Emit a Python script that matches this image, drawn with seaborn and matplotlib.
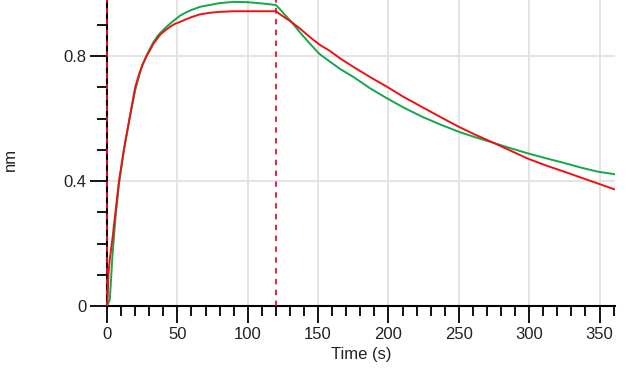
import matplotlib
matplotlib.use("Agg")
import matplotlib.pyplot as plt
import numpy as np
import pandas as pd
import seaborn as sns
from matplotlib.ticker import MultipleLocator, FixedLocator

# ---- data (time in s, response in nm) ----
measured_time = [0, 2, 4, 6, 8.5, 12, 16, 20, 23, 25, 28, 30, 33, 36, 38, 42, 45, 48,
                 52, 56, 60, 66, 73, 80, 90, 100, 110, 120,
                 123, 127, 131, 137, 144, 151, 158, 166, 175, 187, 199, 211, 224, 237,
                 250, 262, 275, 287, 299, 312, 325, 337, 349, 361]
measured_nm = [0.0, 0.02, 0.17, 0.28, 0.39, 0.50, 0.60, 0.69, 0.74, 0.77, 0.80, 0.82,
               0.845, 0.865, 0.875, 0.893, 0.905, 0.916, 0.93, 0.94, 0.948, 0.958,
               0.964, 0.970, 0.974, 0.973, 0.969, 0.964,
               0.95, 0.93, 0.91, 0.877, 0.841, 0.807, 0.784, 0.758, 0.734, 0.697,
               0.665, 0.635, 0.606, 0.581, 0.558, 0.540, 0.522, 0.505, 0.489, 0.473,
               0.458, 0.443, 0.430, 0.422]

fit_time = [0, 0.5, 1, 2, 4, 6, 8.5, 12, 16, 20, 23, 25, 28, 30, 33, 36, 38, 42, 45,
            48, 52, 56, 60, 66, 73, 80, 90, 100, 110, 120,
            125, 130, 137, 144, 151, 158, 166, 175, 187, 199, 211, 224, 237, 250, 262,
            275, 287, 299, 312, 325, 337, 349, 361]
fit_nm = [0.0, 0.03, 0.10, 0.15, 0.22, 0.30, 0.40, 0.50, 0.60, 0.70, 0.745, 0.77, 0.80,
          0.815, 0.84, 0.858, 0.87, 0.885, 0.895, 0.903, 0.91, 0.918, 0.925, 0.934,
          0.939, 0.942, 0.944, 0.944, 0.944, 0.944,
          0.928, 0.913, 0.889, 0.862, 0.837, 0.818, 0.792, 0.766, 0.733, 0.702, 0.669,
          0.637, 0.605, 0.574, 0.548, 0.522, 0.497, 0.472, 0.450, 0.430, 0.411,
          0.392, 0.373]

step_times = [0, 120]
x_ticks = [0, 50, 100, 150, 200, 250, 300, 350]
y_ticks = [0, 0.4, 0.8]
y_tick_labels = ["0", "0.4", "0.8"]

df = pd.concat([
    pd.DataFrame({"Time": measured_time, "nm": measured_nm, "series": "measured"}),
    pd.DataFrame({"Time": fit_time, "nm": fit_nm, "series": "fit"}),
], ignore_index=True)

sns.set_style("white")
plt.rcParams["font.family"] = ["Liberation Sans", "DejaVu Sans"]

fig = plt.figure(figsize=(6.33, 3.77), dpi=100)
ax = fig.add_axes([107 / 633, 1 - 306 / 377, (615 - 107) / 633, 306 / 377])

ax.grid(True, which="major", color="#e2e2e2", lw=1.3, zorder=0)
ax.set_axisbelow(True)

sns.lineplot(data=df, x="Time", y="nm", hue="series", hue_order=["measured", "fit"],
             palette={"measured": "#11a84a", "fit": "#ee1111"}, estimator=None,
             sort=False, legend=False, lw=1.4, ax=ax, zorder=3)

for t in step_times:
    ax.axvline(t, color="#e8102a", lw=1.3, ls=(0, (3, 3)), zorder=5, clip_on=False)

ax.set_xlim(0, 361)
ax.set_ylim(0, 0.98)

ax.xaxis.set_major_locator(FixedLocator(x_ticks))
ax.xaxis.set_minor_locator(MultipleLocator(10))
ax.yaxis.set_major_locator(FixedLocator(y_ticks))
ax.set_yticklabels(y_tick_labels)
ax.yaxis.set_minor_locator(MultipleLocator(0.1))

ax.tick_params(which="both", bottom=True, left=True, direction="out", colors="black",
               width=1.3)
ax.tick_params(which="major", length=12, labelsize=12, pad=3, labelcolor="#222222")
ax.tick_params(which="minor", length=7)

for s in ["top", "right"]:
    ax.spines[s].set_visible(False)
for s in ["left", "bottom"]:
    ax.spines[s].set_color("black")
    ax.spines[s].set_linewidth(1.5)

ax.set_xlabel("Time (s)", fontsize=12, color="#222222", labelpad=4)
ax.set_ylabel("nm", fontsize=12, color="#222222")
ax.yaxis.set_label_coords(-0.176, 0.48)

fig.savefig("out.png", dpi=100)
